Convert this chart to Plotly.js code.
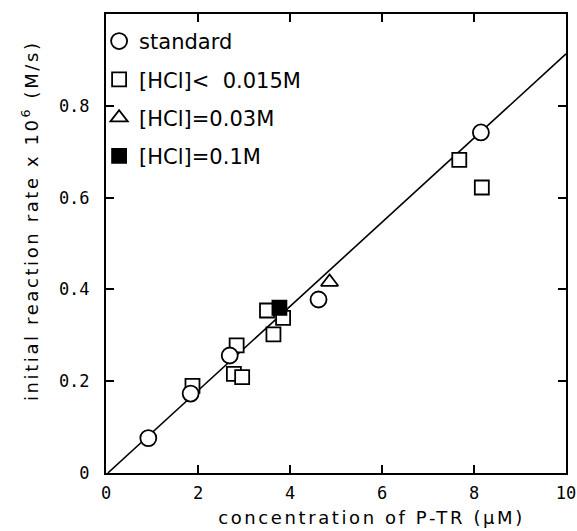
<!DOCTYPE html>
<html>
<head>
<meta charset="utf-8">
<script src="https://cdn.plot.ly/plotly-3.0.1.min.js"></script>
<style>
html,body{margin:0;padding:0;background:#fff;}
#chart{width:577px;height:531px;}
#chart .annotation-text{letter-spacing:2.6px;}
</style>
</head>
<body>
<div id="chart"></div>
<script>
// Data
const standardX = [0.92, 1.84, 2.69, 4.62, 8.15];
const standardY = [0.076, 0.173, 0.256, 0.378, 0.742];

const lowHclX = [1.88, 2.84, 2.78, 2.96, 3.50, 3.85, 3.64, 7.68, 8.17];
const lowHclY = [0.190, 0.278, 0.216, 0.209, 0.354, 0.338, 0.302, 0.682, 0.622];

const midHclX = [4.86];
const midHclY = [0.416];

const highHclX = [3.77];
const highHclY = [0.360];

const fitX = [0.04, 10];
const fitY = [0.0, 0.913];

const xTickVals = [0, 2, 4, 6, 8, 10];
const xTickText = ["0", "2", "4", "6", "8", "10"];
const yTickVals = [0, 0.2, 0.4, 0.6, 0.8];
const yTickText = ["0", "0.2", "0.4", "0.6", "0.8"];

const legendNames = ["standard", "[HCl]<\u00a0\u00a00.015M", "[HCl]=0.03M", "[HCl]=0.1M"];
const xTitle = "concentration of P-TR (\u03bcM)";
const yTitle = "initial reaction rate x 10<sup>6</sup> (M/s)";

const outlined = (symbol, size) => ({symbol: symbol, size: size, color: '#fff', line: {color: '#000', width: 1.8}});

const traces = [
  {x: fitX, y: fitY, mode: 'lines', line: {color: '#000', width: 1.6}, showlegend: false, hoverinfo: 'skip'},
  {x: lowHclX, y: lowHclY, mode: 'markers', name: legendNames[1], marker: outlined('square', 14), legendrank: 2, legendgroup: 'b'},
  {x: standardX, y: standardY, mode: 'markers', name: legendNames[0], marker: outlined('circle', 16), legendrank: 1, legendgroup: 'a'},
  {x: midHclX, y: midHclY, mode: 'markers', name: legendNames[2], marker: outlined('triangle-up', 15), legendrank: 3, legendgroup: 'c'},
  {x: highHclX, y: highHclY, mode: 'markers', name: legendNames[3], marker: {symbol: 'square', size: 14, color: '#000', line: {color: '#000', width: 1.8}}, legendrank: 4, legendgroup: 'd'}
];

const axisCommon = {
  showgrid: false, zeroline: false, showline: true, linecolor: '#000', linewidth: 2,
  mirror: 'ticks', ticks: 'inside', ticklen: 8, tickwidth: 2, tickcolor: '#000',
  tickfont: {family: 'DejaVu Sans Mono', size: 17, color: '#000'}
};

const layout = {
  width: 577, height: 531,
  margin: {l: 106, r: 11, t: 14, b: 58},
  paper_bgcolor: '#fff', plot_bgcolor: '#fff',
  showlegend: true,
  legend: {x: -0.015, y: 0.985, xanchor: 'left', yanchor: 'top', bgcolor: 'rgba(0,0,0,0)',
           font: {family: 'DejaVu Sans', size: 21, color: '#000'}, tracegroupgap: 8, traceorder: 'grouped'},
  xaxis: Object.assign({}, axisCommon, {range: [0, 10], tickvals: xTickVals, ticktext: xTickText, ticklabelstandoff: 4}),
  yaxis: Object.assign({}, axisCommon, {range: [0, 1.0], tickvals: yTickVals, ticktext: yTickText, ticklabelstandoff: 11}),
  annotations: [
    {text: xTitle, xref: 'paper', yref: 'paper', x: 0.577, y: -0.098, xanchor: 'center', yanchor: 'middle', showarrow: false,
     font: {family: 'DejaVu Sans', size: 18, color: '#000'}},
    {text: yTitle, xref: 'paper', yref: 'paper', x: -0.165, y: 0.549, xanchor: 'center', yanchor: 'middle', showarrow: false, textangle: -90,
     font: {family: 'DejaVu Sans', size: 18, color: '#000'}}
  ]
};

Plotly.newPlot('chart', traces, layout, {displayModeBar: false, staticPlot: true});
</script>
</body>
</html>
